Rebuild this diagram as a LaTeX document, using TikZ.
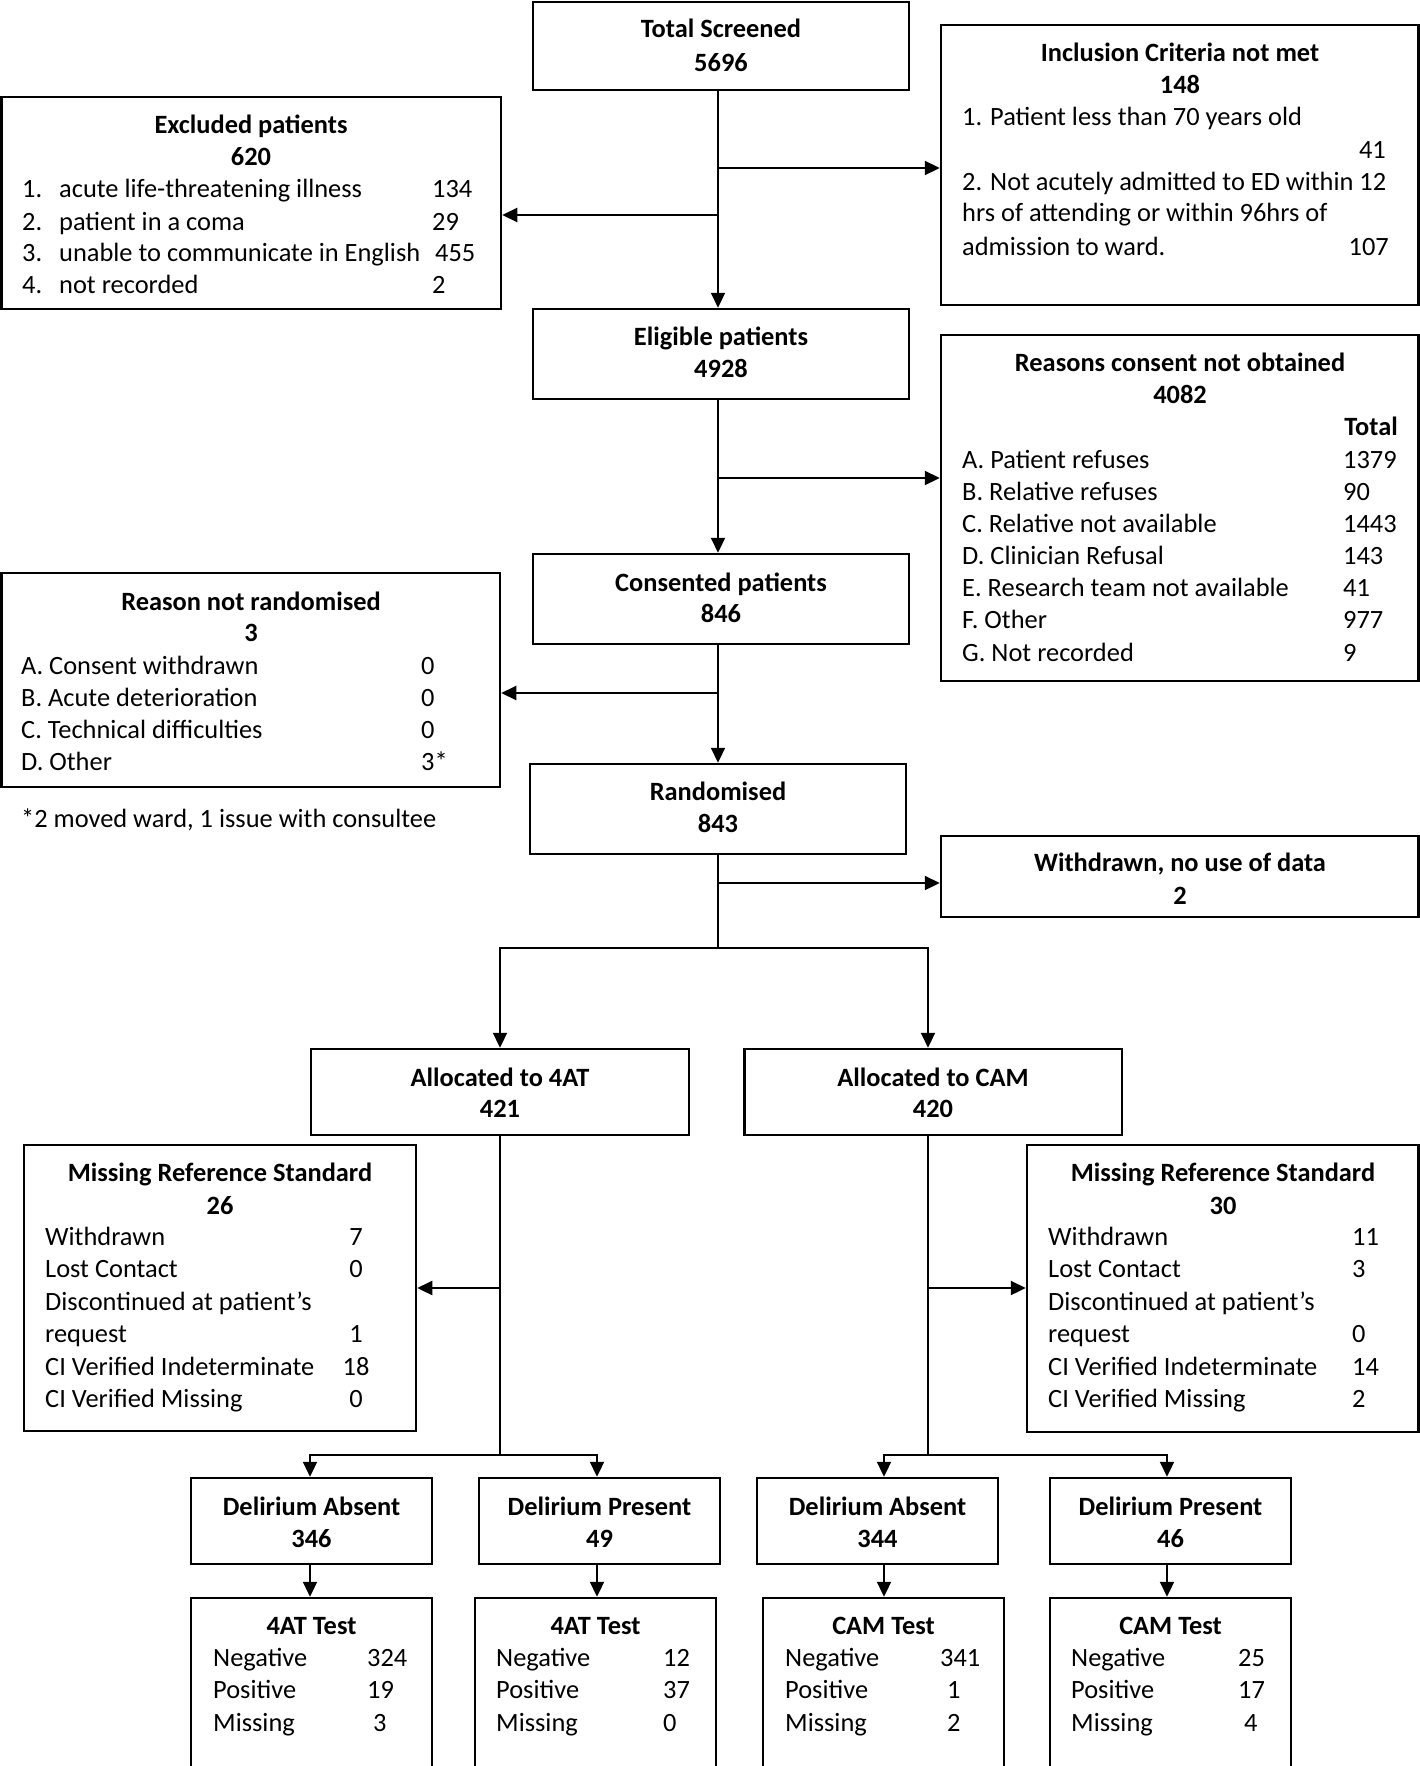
\documentclass[tikz,border=0pt]{standalone}
\usepackage{fontspec}
\setmainfont{Carlito}
\usetikzlibrary{arrows.meta,fit}
\newcommand\fsz{\fontsize{26.4}{32}\selectfont}
\newcommand\bx[5]{\node[box,fit={(#2,#3) (#4,#5)}] (#1) {};}
\tikzset{
 box/.style={draw, line width=2.5pt, inner sep=0pt},
 arr/.style={draw, line width=2.2pt, -{Triangle[length=15pt,width=14pt]}},
 ln/.style={draw, line width=2.2pt},
 ttl/.style={font=\fsz\bfseries, anchor=base, inner sep=0pt, yshift=-2.5pt},
 lab/.style={font=\fsz, anchor=base west, inner sep=0pt, yshift=-2.5pt},
 numr/.style={font=\fsz, anchor=base east, inner sep=0pt, yshift=-2.5pt},
 numc/.style={font=\fsz, anchor=base, inner sep=0pt, yshift=-2.5pt},
}
\begin{document}
\begin{tikzpicture}[x=1pt,y=-1pt]
\useasboundingbox (0,0) rectangle (1420,1766);
% ---------- boxes ----------
\bx{ts}{533}{2}{909}{90}
\bx{exc}{1.5}{97}{501}{309}
\bx{inc}{941}{25}{1418.5}{305}
\bx{el}{533}{309}{909}{399}
\bx{rc}{941}{335}{1418.5}{681}
\bx{co}{533}{554}{909}{644}
\bx{nr}{1.5}{573}{500}{787}
\bx{ra}{530}{764}{906}{854}
\bx{wd}{941}{836}{1418.5}{917}
\bx{a4}{311}{1049}{689}{1135}
\bx{ac}{744.5}{1049}{1122}{1135}
\bx{ml}{24}{1145}{416}{1431}
\bx{mr}{1027}{1145}{1418.5}{1432}
\bx{d1}{191}{1478}{432}{1564}
\bx{d2}{479}{1478}{720}{1564}
\bx{d3}{757}{1478}{998}{1564}
\bx{d4}{1050}{1478}{1291}{1564}
\bx{t1}{191}{1598}{432}{1790}
\bx{t2}{475}{1598}{716}{1790}
\bx{t3}{763}{1598}{1004}{1790}
\bx{t4}{1050}{1598}{1291}{1790}
% ---------- texts ----------
\node[ttl] (tsA) at (721,35) {Total Screened};
\node[ttl] (tsB) at (721,69) {5696};
\node[ttl] (exA) at (251,131) {Excluded patients};
\node[ttl] (exB) at (251,163) {620};
\node[lab] (ex1a) at (22,195) {1.};
\node[lab] (ex1b) at (59,195) {acute life-threatening illness};
\node[lab] (ex1c) at (432,195) {134};
\node[lab] (ex2a) at (22,228) {2.};
\node[lab] (ex2b) at (59,228) {patient in a coma};
\node[lab] (ex2c) at (432,228) {29};
\node[lab] (ex3a) at (22,259) {3.};
\node[lab] (ex3b) at (59,259) {unable to communicate in English};
\node[lab] (ex3c) at (435,259) {455};
\node[lab] (ex4a) at (22,291) {4.};
\node[lab] (ex4b) at (59,291) {not recorded};
\node[lab] (ex4c) at (432,291) {2};
\node[ttl] (inA) at (1180,59) {Inclusion Criteria not met};
\node[ttl] (inB) at (1180,91) {148};
\node[lab] (in1) at (962,123) {1. Patient less than 70 years old};
\node[numr] (in1v) at (1386,156) {41};
\node[lab] (in2) at (962,188) {2. Not acutely admitted to ED within 12};
\node[lab] (in3) at (962,219) {hrs of attending or within 96hrs of};
\node[lab] (in4) at (962,253) {admission to ward.};
\node[numr] (in4v) at (1389,253) {107};
\node[ttl] (elA) at (721,343) {Eligible patients};
\node[ttl] (elB) at (721,375) {4928};
\node[ttl] (rcA) at (1180,369) {Reasons consent not obtained};
\node[ttl] (rcB) at (1180,401) {4082};
\node[font=\fsz\bfseries, anchor=base east, inner sep=0pt, yshift=-2.5pt] (rcT) at (1398,433) {Total};
\node[lab] (rc1) at (962,466) {A. Patient refuses};
\node[lab] (rc1v) at (1343,466) {1379};
\node[lab] (rc2) at (962,498) {B. Relative refuses};
\node[lab] (rc2v) at (1343,498) {90};
\node[lab] (rc3) at (962,530) {C. Relative not available};
\node[lab] (rc3v) at (1343,530) {1443};
\node[lab] (rc4) at (962,562) {D. Clinician Refusal};
\node[lab] (rc4v) at (1343,562) {143};
\node[lab] (rc5) at (962,594) {E. Research team not available};
\node[lab] (rc5v) at (1343,594) {41};
\node[lab] (rc6) at (962,626) {F. Other};
\node[lab] (rc6v) at (1343,626) {977};
\node[lab] (rc7) at (962,659) {G. Not recorded};
\node[lab] (rc7v) at (1343,659) {9};
\node[ttl] (coA) at (721,589) {Consented patients};
\node[ttl] (coB) at (721,620) {846};
\node[ttl] (nrA) at (251,608) {Reason not randomised};
\node[ttl] (nrB) at (251,639) {3};
\node[lab] (nr1) at (21,672) {A. Consent withdrawn};
\node[lab] (nr1v) at (421,672) {0};
\node[lab] (nr2) at (21,704) {B. Acute deterioration};
\node[lab] (nr2v) at (421,704) {0};
\node[lab] (nr3) at (21,736) {C. Technical difficulties};
\node[lab] (nr3v) at (421,736) {0};
\node[lab] (nr4) at (21,768) {D. Other};
\node[lab] (nr4v) at (421,768) {3*};
\node[lab] (fn) at (21,825) {*2 moved ward, 1 issue with consultee};
\node[ttl] (raA) at (718,798) {Randomised};
\node[ttl] (raB) at (718,830) {843};
\node[ttl] (wdA) at (1180,869) {Withdrawn, no use of data};
\node[ttl] (wdB) at (1180,902) {2};
\node[ttl] (a4A) at (500,1084) {Allocated to 4AT};
\node[ttl] (a4B) at (500,1115) {421};
\node[ttl] (acA) at (933,1084) {Allocated to CAM};
\node[ttl] (acB) at (933,1115) {420};
% missing left
\node[ttl] (mlA) at (220,1179) {Missing Reference Standard};
\node[ttl] (mlB) at (220,1212) {26};
\node[lab] (ml1) at (45,1243) {Withdrawn};
\node[numc] (ml1v) at (356,1243) {7};
\node[lab] (ml2) at (45,1275) {Lost Contact};
\node[numc] (ml2v) at (356,1275) {0};
\node[lab] (ml3) at (45,1308) {Discontinued at patient’s};
\node[lab] (ml4) at (45,1340) {request};
\node[numc] (ml4v) at (356,1340) {1};
\node[lab] (ml5) at (45,1373) {CI Verified Indeterminate};
\node[numc] (ml5v) at (356,1373) {18};
\node[lab] (ml6) at (45,1405) {CI Verified Missing};
\node[numc] (ml6v) at (356,1405) {0};
% missing right
\node[ttl] (mrA) at (1223,1179) {Missing Reference Standard};
\node[ttl] (mrB) at (1223,1212) {30};
\node[lab] (mr1) at (1048,1243) {Withdrawn};
\node[lab] (mr1v) at (1352,1243) {11};
\node[lab] (mr2) at (1048,1275) {Lost Contact};
\node[lab] (mr2v) at (1352,1275) {3};
\node[lab] (mr3) at (1048,1308) {Discontinued at patient’s};
\node[lab] (mr4) at (1048,1340) {request};
\node[lab] (mr4v) at (1352,1340) {0};
\node[lab] (mr5) at (1048,1373) {CI Verified Indeterminate};
\node[lab] (mr5v) at (1352,1373) {14};
\node[lab] (mr6) at (1048,1405) {CI Verified Missing};
\node[lab] (mr6v) at (1352,1405) {2};
% delirium
\node[ttl] (d1A) at (311.5,1513) {Delirium Absent};
\node[ttl] (d1B) at (311.5,1545) {346};
\node[ttl] (d2A) at (599.5,1513) {Delirium Present};
\node[ttl] (d2B) at (599.5,1545) {49};
\node[ttl] (d3A) at (877.5,1513) {Delirium Absent};
\node[ttl] (d3B) at (877.5,1545) {344};
\node[ttl] (d4A) at (1170.5,1513) {Delirium Present};
\node[ttl] (d4B) at (1170.5,1545) {46};
% tests
\node[ttl] (t1A) at (311.5,1632) {4AT Test};
\node[lab] (t1a) at (213,1664) {Negative};
\node[lab] (t1av) at (367,1664) {324};
\node[lab] (t1b) at (213,1696) {Positive};
\node[lab] (t1bv) at (367,1696) {19};
\node[lab] (t1c) at (213,1729) {Missing};
\node[lab] (t1cv) at (373,1729) {3};
\node[ttl] (t2A) at (595.5,1632) {4AT Test};
\node[lab] (t2a) at (496,1664) {Negative};
\node[lab] (t2av) at (663,1664) {12};
\node[lab] (t2b) at (496,1696) {Positive};
\node[lab] (t2bv) at (663,1696) {37};
\node[lab] (t2c) at (496,1729) {Missing};
\node[lab] (t2cv) at (663,1729) {0};
\node[ttl] (t3A) at (883.5,1632) {CAM Test};
\node[lab] (t3a) at (785,1664) {Negative};
\node[lab] (t3av) at (940,1664) {341};
\node[lab] (t3b) at (785,1696) {Positive};
\node[lab] (t3bv) at (947,1696) {1};
\node[lab] (t3c) at (785,1729) {Missing};
\node[lab] (t3cv) at (947,1729) {2};
\node[ttl] (t4A) at (1170.5,1632) {CAM Test};
\node[lab] (t4a) at (1071,1664) {Negative};
\node[lab] (t4av) at (1238,1664) {25};
\node[lab] (t4b) at (1071,1696) {Positive};
\node[lab] (t4bv) at (1238,1696) {17};
\node[lab] (t4c) at (1071,1729) {Missing};
\node[lab] (t4cv) at (1244,1729) {4};
% ---------- connectors ----------
\coordinate (cx) at (718,0);
\draw[arr] (cx |- ts.south) -- (cx |- el.north);
\coordinate (j1) at (718,168);
\draw[arr] (j1) -- (j1 -| inc.west);
\coordinate (j2) at (718,215);
\draw[arr] (j2) -- (j2 -| exc.east);
\draw[arr] (cx |- el.south) -- (cx |- co.north);
\coordinate (j3) at (718,478);
\draw[arr] (j3) -- (j3 -| rc.west);
\draw[arr] (cx |- co.south) -- (cx |- ra.north);
\coordinate (j4) at (718,693);
\draw[arr] (j4) -- (j4 -| nr.east);
\coordinate (j5) at (718,948);
\draw[ln] (cx |- ra.south) -- (j5);
\coordinate (j6) at (718,883);
\draw[arr] (j6) -- (j6 -| wd.west);
\coordinate (sL) at (500,948);
\coordinate (sR) at (928,948);
\draw[arr] (sR) -- (sL) -- (sL |- a4.north);
\draw[arr] (sL) -- (sR) -- (sR |- ac.north);
% left column
\coordinate (lc) at (500,1455);
\draw[ln] (lc |- a4.south) -- (lc);
\coordinate (j7) at (500,1288);
\draw[arr] (j7) -- (j7 -| ml.east);
\coordinate (l1) at (310,1455);
\coordinate (l2) at (597,1455);
\draw[arr] (l2) -- (l1) -- (l1 |- d1.north);
\draw[arr] (l1) -- (l2) -- (l2 |- d2.north);
\draw[arr] (l1 |- d1.south) -- (l1 |- t1.north);
\draw[arr] (l2 |- d2.south) -- (l2 |- t2.north);
% right column
\coordinate (rcol) at (928,1455);
\draw[ln] (rcol |- ac.south) -- (rcol);
\coordinate (j8) at (928,1288);
\draw[arr] (j8) -- (j8 -| mr.west);
\coordinate (r1) at (884,1455);
\coordinate (r2) at (1167,1455);
\draw[arr] (r2) -- (r1) -- (r1 |- d3.north);
\draw[arr] (r1) -- (r2) -- (r2 |- d4.north);
\draw[arr] (r1 |- d3.south) -- (r1 |- t3.north);
\draw[arr] (r2 |- d4.south) -- (r2 |- t4.north);
\end{tikzpicture}
\end{document}
